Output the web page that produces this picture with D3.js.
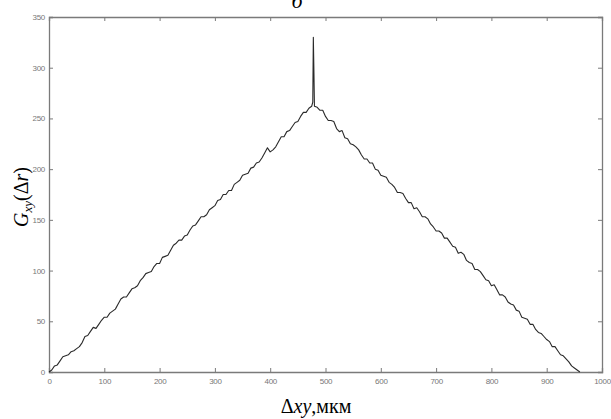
<!DOCTYPE html>
<html>
<head>
<meta charset="utf-8">
<script src="https://cdn.jsdelivr.net/npm/d3@7"></script>
<style>
  html, body { margin: 0; padding: 0; background: #fff; }
  svg { display: block; }
</style>
</head>
<body>
<svg id="chart" width="611" height="419"></svg>
<script>
// Pair correlation G_xy(Δr) against shift Δxy (µm), sampled every 5 µm
const shiftStep = 5;
const gValues = [
  0, 2, 6, 7, 11, 15, 16, 17, 20, 21,
  23, 25, 29, 35, 36, 40, 44, 43, 47, 51,
  54, 54, 58, 60, 62, 67, 72, 74, 74, 78,
  82, 83, 85, 90, 93, 97, 98, 99, 104, 107,
  107, 113, 114, 115, 120, 125, 127, 130, 130, 134,
  135, 140, 144, 145, 149, 153, 153, 155, 160, 162,
  164, 169, 170, 175, 175, 179, 179, 185, 187, 189,
  194, 195, 196, 201, 202, 206, 207, 211, 216, 221,
  217, 219, 222, 227, 232, 232, 237, 238, 242, 246,
  247, 252, 256, 256, 260, 262, 262, 261, 258, 258,
  252, 248, 248, 247, 240, 237, 238, 231, 230, 225,
  224, 222, 219, 214, 210, 210, 206, 206, 200, 199,
  194, 193, 192, 187, 185, 182, 177, 177, 176, 171,
  167, 167, 161, 162, 158, 153, 153, 151, 146, 143,
  139, 139, 137, 132, 132, 128, 124, 123, 117, 118,
  116, 110, 108, 107, 101, 101, 99, 95, 91, 90,
  85, 86, 81, 76, 76, 74, 69, 67, 66, 61,
  60, 54, 53, 52, 47, 47, 42, 39, 38, 35,
  32, 30, 25, 25, 21, 17, 16, 13, 10, 6,
  4, 2, 0
];
// Narrow spike at zero shift
const spikeShift = [477, 478, 479];
const spikeValue = [266, 330, 298];

const xTicks = [0, 100, 200, 300, 400, 500, 600, 700, 800, 900, 1000];
const yTicks = [0, 50, 100, 150, 200, 250, 300, 350];

const points = gValues.map((v, i) => [i * shiftStep, v])
  .concat(spikeShift.map((s, i) => [s, spikeValue[i]]))
  .sort((a, b) => a[0] - b[0]);

const svg = d3.select("#chart");
const plotLeft = 49, plotRight = 602, plotTop = 17, plotBottom = 372;

const x = d3.scaleLinear().domain([0, 1000]).range([plotLeft, plotRight]);
const y = d3.scaleLinear().domain([0, 350]).range([plotBottom, plotTop]);

const axisColor = "#7a7a7a";
const tickFont = "Arial, 'Liberation Sans', sans-serif";

// Title letter, partly above the frame
svg.append("text")
  .attr("x", 297).attr("y", 8)
  .attr("text-anchor", "middle")
  .attr("font-family", "'Liberation Serif', 'Times New Roman', serif")
  .attr("font-style", "italic")
  .attr("font-size", 22)
  .attr("fill", "#000")
  .text("б");

// Bottom axis with inward ticks
const gx = svg.append("g").attr("transform", `translate(0,${plotBottom})`)
  .call(d3.axisBottom(x).tickValues(xTicks).tickSize(-4).tickPadding(6).tickFormat(d3.format("d")));
// Top axis (ticks only)
const gxt = svg.append("g").attr("transform", `translate(0,${plotTop})`)
  .call(d3.axisTop(x).tickValues(xTicks).tickSize(-4).tickFormat(""));
// Left axis
const gy = svg.append("g").attr("transform", `translate(${plotLeft},0)`)
  .call(d3.axisLeft(y).tickValues(yTicks).tickSize(-4).tickPadding(4).tickFormat(d3.format("d")));
// Right axis (ticks only)
const gyr = svg.append("g").attr("transform", `translate(${plotRight},0)`)
  .call(d3.axisRight(y).tickValues(yTicks).tickSize(-4).tickFormat(""));

[gx, gxt, gy, gyr].forEach(g => {
  g.select(".domain").attr("stroke", axisColor).attr("stroke-width", 1.3);
  g.selectAll(".tick line").attr("stroke", axisColor).attr("stroke-width", 1);
  g.selectAll(".tick text")
    .attr("fill", "#777")
    .attr("font-family", tickFont)
    .attr("font-size", 8)
    .attr("letter-spacing", "-0.3");
});

// Correlation curve
const line = d3.line().x(d => x(d[0])).y(d => y(d[1]));
svg.append("path")
  .datum(points)
  .attr("fill", "none")
  .attr("stroke", "#2a2a2a")
  .attr("stroke-width", 1.1)
  .attr("stroke-linejoin", "round")
  .attr("d", line);

// Axis titles
svg.append("text")
  .attr("x", 316).attr("y", 413)
  .attr("text-anchor", "middle")
  .attr("font-family", "'Liberation Serif', 'Times New Roman', serif")
  .attr("font-size", 20)
  .attr("fill", "#000")
  .html("Δ<tspan font-style='italic'>xy</tspan>,мкм");

svg.append("text")
  .attr("transform", "translate(28,197) rotate(-90)")
  .attr("text-anchor", "middle")
  .attr("font-family", "'Liberation Serif', 'Times New Roman', serif")
  .attr("font-size", 20)
  .attr("fill", "#000")
  .html("<tspan font-style='italic'>G</tspan><tspan font-style='italic' font-size='13' dy='4'>xy</tspan><tspan dy='-4'>(Δ</tspan><tspan font-style='italic'>r</tspan><tspan>)</tspan>");
</script>
</body>
</html>
